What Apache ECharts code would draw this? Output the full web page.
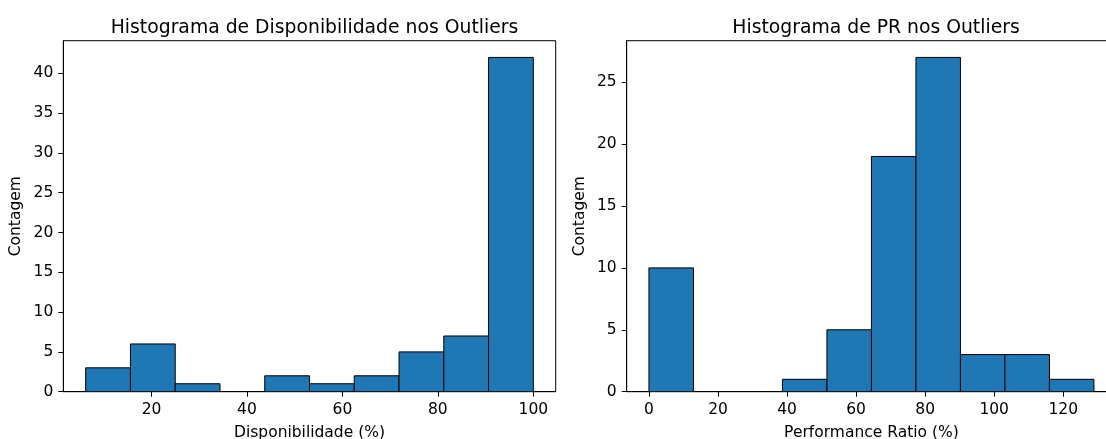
<!DOCTYPE html>
<html>
<head>
<meta charset="utf-8">
<script src="https://cdn.jsdelivr.net/npm/echarts@6/dist/echarts.min.js"></script>
<style>
html,body{margin:0;padding:0;background:#fff;}
#chart{width:1106px;height:439px;}
</style>
</head>
<body>
<div id="chart"></div>
<script>
// Left histogram: Disponibilidade (%)
const leftEdges = [6.2, 15.58, 24.96, 34.34, 43.72, 53.1, 62.48, 71.86, 81.24, 90.62, 100];
const leftCounts = [3, 6, 1, 0, 2, 1, 2, 5, 7, 42];
const leftXTicks = [20, 40, 60, 80, 100];
const leftYTicks = [0, 5, 10, 15, 20, 25, 30, 35, 40];

// Right histogram: Performance Ratio (%)
const rightEdges = [0, 12.89, 25.78, 38.67, 51.56, 64.45, 77.34, 90.23, 103.12, 116.01, 128.9];
const rightCounts = [10, 0, 0, 1, 5, 19, 27, 3, 3, 1];
const rightXTicks = [0, 20, 40, 60, 80, 100, 120];
const rightYTicks = [0, 5, 10, 15, 20, 25];

const titles = ['Histograma de Disponibilidade nos Outliers', 'Histograma de PR nos Outliers'];
const xNames = ['Disponibilidade (%)', 'Performance Ratio (%)'];
const yName = 'Contagem';

function toBins(edges, counts) {
  return counts.map((c, i) => [edges[i], edges[i + 1], c]);
}

const FONT = 'DejaVu Sans';
const TXT = '#000';
const FS = 15.5;

function renderBin(params, api) {
  const x0 = api.value(0), x1 = api.value(1), c = api.value(2);
  if (!c) return null;
  const p0 = api.coord([x0, 0]);
  const p1 = api.coord([x1, c]);
  return {
    type: 'rect',
    shape: { x: p0[0], y: p1[1], width: p1[0] - p0[0], height: p0[1] - p1[1] },
    style: { fill: '#1f77b4', stroke: '#000', lineWidth: 1 }
  };
}

function xAxis(idx, min, max, ticks, name) {
  return {
    type: 'value', gridIndex: idx, min: min, max: max,
    name: name, nameLocation: 'middle', nameGap: 33,
    nameTextStyle: { fontFamily: FONT, fontSize: FS, color: TXT },
    axisLine: { show: true, onZero: false, lineStyle: { color: '#000', width: 1 } },
    axisTick: { show: true, length: 5, lineStyle: { color: '#000' }, customValues: ticks },
    axisLabel: { fontFamily: FONT, fontSize: FS, color: TXT, margin: 10, customValues: ticks },
    splitLine: { show: false }
  };
}
function yAxis(idx, max, ticks) {
  return {
    type: 'value', gridIndex: idx, min: 0, max: max,
    name: yName, nameLocation: 'middle', nameGap: 39,
    nameTextStyle: { fontFamily: FONT, fontSize: FS, color: TXT },
    axisLine: { show: true, onZero: false, lineStyle: { color: '#000', width: 1 } },
    axisTick: { show: true, length: 5, lineStyle: { color: '#000' }, customValues: ticks },
    axisLabel: { fontFamily: FONT, fontSize: FS, color: TXT, margin: 10, customValues: ticks },
    splitLine: { show: false }
  };
}

const chart = echarts.init(document.getElementById('chart'), null, { renderer: 'canvas' });
chart.setOption({
  animation: false,
  backgroundColor: '#fff',
  title: [
    { text: titles[0], left: 309.5, top: 14, textAlign: 'center',
      textStyle: { fontFamily: FONT, fontSize: 18.8, fontWeight: 'normal', color: TXT } },
    { text: titles[1], left: 871, top: 14, textAlign: 'center',
      textStyle: { fontFamily: FONT, fontSize: 18.8, fontWeight: 'normal', color: TXT } }
  ],
  grid: [
    { left: 63.3, top: 40.7, width: 492.4, height: 351, show: true, borderColor: '#000', borderWidth: 1, backgroundColor: 'transparent', outerBoundsMode: 'none', containLabel: false },
    { left: 626.7, top: 40.7, width: 489.5, height: 351, show: true, borderColor: '#000', borderWidth: 1, backgroundColor: 'transparent', outerBoundsMode: 'none', containLabel: false }
  ],
  xAxis: [
    xAxis(0, 1.51, 104.69, leftXTicks, xNames[0]),
    xAxis(1, -6.445, 135.345, rightXTicks, xNames[1])
  ],
  yAxis: [
    yAxis(0, 44.1, leftYTicks),
    yAxis(1, 28.35, rightYTicks)
  ],
  series: [
    { type: 'custom', xAxisIndex: 0, yAxisIndex: 0, renderItem: renderBin, data: toBins(leftEdges, leftCounts), clip: true },
    { type: 'custom', xAxisIndex: 1, yAxisIndex: 1, renderItem: renderBin, data: toBins(rightEdges, rightCounts), clip: true }
  ]
});
</script>
</body>
</html>
